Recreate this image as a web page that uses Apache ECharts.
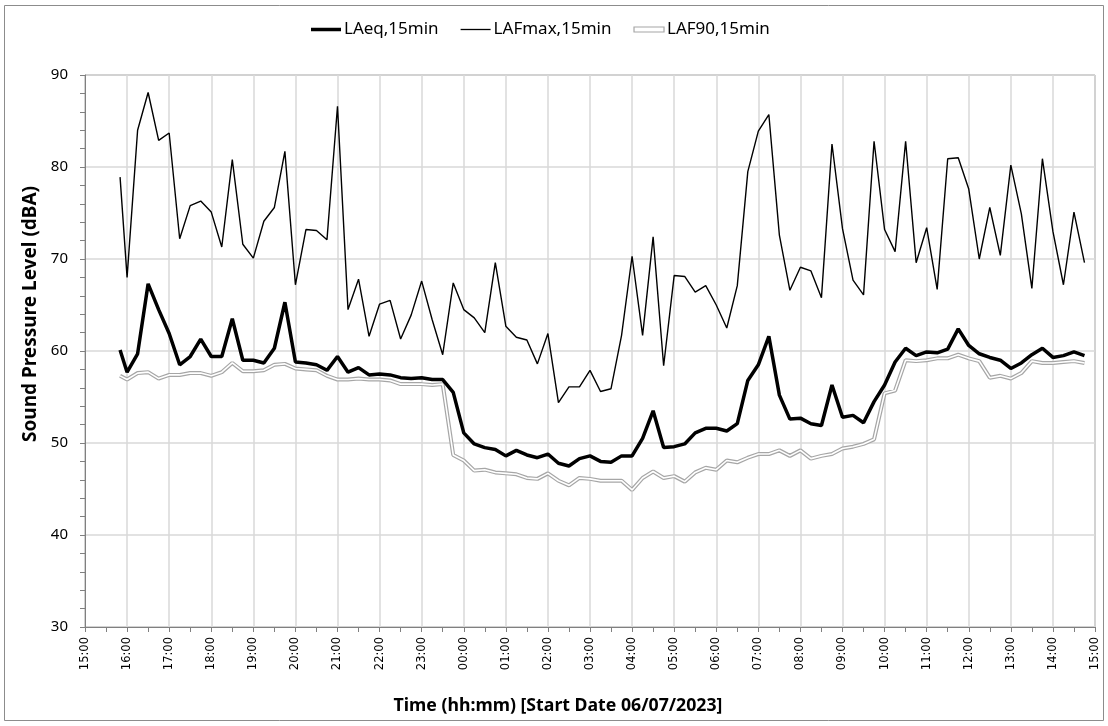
<!DOCTYPE html>
<html>
<head>
    <meta charset="utf-8">
    <title>Sound Pressure Level</title>
    <script src="https://cdn.jsdelivr.net/npm/echarts@6/dist/echarts.min.js"></script>
    <style>
        html, body { margin: 0; padding: 0; background: #fff; }
        #chart { width: 1108px; height: 726px; }
    </style>
</head>
<body>
    <div id="chart"></div>
    <script>
        // 15-min intervals: first (partial) one at 15:50, then 16:00 ... 14:45 next day
        const sampleTimes = ['15:50'];
        for (let m = 16 * 60; m < (24 + 15) * 60; m += 15) {
            const h = Math.floor(m / 60) % 24, mm = m % 60;
            sampleTimes.push(String(h).padStart(2, '0') + ':' + String(mm).padStart(2, '0'));
        }

        const laeq = [
            60.1, 57.7, 59.7, 67.3, 64.5, 61.9, 58.5, 59.4, 61.3, 59.4, 59.4, 63.5, 59.0, 59.0, 58.7, 60.3,
            65.3, 58.8, 58.7, 58.5, 57.9, 59.4, 57.7, 58.2, 57.4, 57.5, 57.4, 57.1, 57.0, 57.1, 56.9, 56.9,
            55.5, 51.1, 49.9, 49.5, 49.3, 48.6, 49.2, 48.7, 48.4, 48.8, 47.8, 47.5, 48.3, 48.6, 48.0, 47.9,
            48.6, 48.6, 50.5, 53.5, 49.5, 49.6, 49.9, 51.1, 51.6, 51.6, 51.3, 52.1, 56.8, 58.5, 61.6, 55.2,
            52.6, 52.7, 52.1, 51.9, 56.3, 52.8, 53.0, 52.2, 54.5, 56.3, 58.8, 60.3, 59.5, 59.9, 59.8, 60.2,
            62.4, 60.6, 59.7, 59.3, 59.0, 58.1, 58.7, 59.6, 60.3, 59.3, 59.5, 59.9, 59.5
        ];
        const lafmax = [
            78.9, 68.0, 84.0, 88.1, 82.9, 83.7, 72.2, 75.8, 76.3, 75.1, 71.3, 80.8, 71.6, 70.1, 74.1, 75.6,
            81.7, 67.2, 73.2, 73.1, 72.1, 86.6, 64.5, 67.8, 61.6, 65.1, 65.5, 61.3, 63.9, 67.6, 63.4, 59.6,
            67.4, 64.5, 63.6, 62.0, 69.6, 62.7, 61.5, 61.2, 58.6, 61.9, 54.4, 56.1, 56.1, 57.9, 55.6, 55.9,
            61.7, 70.3, 61.7, 72.4, 58.4, 68.2, 68.1, 66.4, 67.1, 65.0, 62.5, 67.1, 79.5, 83.9, 85.7, 72.6,
            66.6, 69.1, 68.7, 65.8, 82.5, 73.3, 67.7, 66.1, 82.8, 73.2, 70.8, 82.8, 69.6, 73.4, 66.7, 80.9,
            81.0, 77.6, 70.0, 75.6, 70.4, 80.2, 74.9, 66.8, 80.9, 73.0, 67.2, 75.1, 69.6
        ];
        const laf90 = [
            57.3, 56.9, 57.6, 57.7, 57.0, 57.4, 57.4, 57.6, 57.6, 57.3, 57.7, 58.7, 57.8, 57.8, 57.9, 58.5,
            58.6, 58.1, 58.0, 57.9, 57.3, 56.9, 56.9, 57.0, 56.9, 56.9, 56.8, 56.4, 56.4, 56.4, 56.3, 56.4,
            48.7, 48.1, 47.0, 47.1, 46.8, 46.7, 46.6, 46.2, 46.1, 46.7, 45.9, 45.4, 46.2, 46.1, 45.9, 45.9,
            45.9, 44.9, 46.2, 46.9, 46.2, 46.4, 45.8, 46.8, 47.3, 47.1, 48.1, 47.9, 48.4, 48.8, 48.8, 49.2,
            48.6, 49.2, 48.3, 48.6, 48.8, 49.4, 49.6, 49.9, 50.4, 55.4, 55.7, 59.0, 58.9, 59.0, 59.2, 59.2,
            59.6, 59.2, 58.9, 57.1, 57.3, 57.0, 57.6, 58.9, 58.7, 58.7, 58.8, 58.9, 58.7
        ];

        // hours since midnight of start day (after midnight -> +24)
        const hours = sampleTimes.map((t, i) => {
            const [h, m] = t.split(':').map(Number);
            let v = h + m / 60;
            if (i > 0 && v < 15) v += 24;
            return v;
        });
        const pairs = arr => arr.map((v, i) => [hours[i], v]);

        const chart = echarts.init(document.getElementById('chart'));
        const axisGray = '#808080';
        const gridGray = '#d9d9d9';

        chart.setOption({
            animation: false,
            backgroundColor: '#fff',
            graphic: [{
                type: 'rect',
                shape: { x: 4.5, y: 5.5, width: 1099, height: 715 },
                style: { fill: 'none', stroke: '#8c8c8c', lineWidth: 1 },
                silent: true
            }],
            legend: {
                left: 306,
                top: 16,
                itemWidth: 30,
                itemHeight: 5,
                itemGap: 22,
                textStyle: { fontFamily: 'Noto Sans', fontSize: 17, color: '#000', padding: [0, 0, 0, -2] },
                data: [
                    { name: 'LAeq,15min', icon: 'path://M0,0H30V3.5H0Z', itemStyle: { color: '#000' } },
                    { name: 'LAFmax,15min', icon: 'path://M0,0H30V1.3H0Z', itemStyle: { color: '#000' } },
                    { name: 'LAF90,15min', icon: 'rect', itemStyle: { color: '#fff', borderColor: '#a6a6a6', borderWidth: 1.2 } }
                ]
            },
            grid: {
                left: 85, right: 13, top: 75, bottom: 99,
                show: true, borderColor: axisGray, borderWidth: 1
            },
            xAxis: {
                type: 'value',
                min: 15, max: 39, interval: 1,
                name: 'Time (hh:mm) [Start Date 06/07/2023]',
                nameLocation: 'middle',
                nameGap: 70,
                nameTextStyle: {
                    fontFamily: 'Noto Sans', fontWeight: 'bold', fontSize: 17.7, color: '#000',
                    padding: [0, 64, 0, 0]
                },
                axisLine: { lineStyle: { color: axisGray } },
                axisTick: { length: 5, lineStyle: { color: axisGray } },
                minorTick: { show: true, splitNumber: 2, length: 5, lineStyle: { color: axisGray } },
                splitLine: { show: true, lineStyle: { color: gridGray, width: 1.5 } },
                axisLabel: {
                    rotate: 90, margin: 10,
                    fontFamily: 'DejaVu Sans', fontSize: 11.5, color: '#000',
                    formatter: v => String(Math.round(v) % 24).padStart(2, '0') + ':00'
                }
            },
            yAxis: {
                type: 'value',
                min: 30, max: 90, interval: 10,
                name: 'Sound Pressure Level (dBA)',
                nameLocation: 'middle',
                nameGap: 44,
                nameTextStyle: {
                    fontFamily: 'Noto Sans', fontWeight: 'bold', fontSize: 19, color: '#000',
                    padding: [0, 0, 0, 74]
                },
                axisLine: { show: true, lineStyle: { color: axisGray } },
                axisTick: { show: true, length: 5, lineStyle: { color: axisGray } },
                minorTick: { show: true, splitNumber: 5, length: 5, lineStyle: { color: axisGray } },
                splitLine: { show: true, lineStyle: { color: gridGray, width: 1.5 } },
                axisLabel: { margin: 17, fontFamily: 'Noto Sans', fontSize: 15, color: '#000' }
            },
            series: [
                {
                    name: 'LAF90,15min', type: 'line', data: pairs(laf90),
                    showSymbol: false, symbol: 'none',
                    lineStyle: { color: '#a6a6a6', width: 4 },
                    itemStyle: { color: '#a6a6a6' },
                    z: 2
                },
                {
                    name: 'LAF90 inner', type: 'line', data: pairs(laf90),
                    showSymbol: false, symbol: 'none',
                    lineStyle: { color: '#fff', width: 1.6 },
                    itemStyle: { color: '#fff' },
                    z: 3
                },
                {
                    name: 'LAFmax,15min', type: 'line', data: pairs(lafmax),
                    showSymbol: false, symbol: 'none',
                    lineStyle: { color: '#000', width: 1.4 },
                    itemStyle: { color: '#000' },
                    z: 4
                },
                {
                    name: 'LAeq,15min', type: 'line', data: pairs(laeq),
                    showSymbol: false, symbol: 'none',
                    lineStyle: { color: '#000', width: 3.5 },
                    itemStyle: { color: '#000' },
                    z: 5
                }
            ]
        });
    </script>
</body>
</html>
